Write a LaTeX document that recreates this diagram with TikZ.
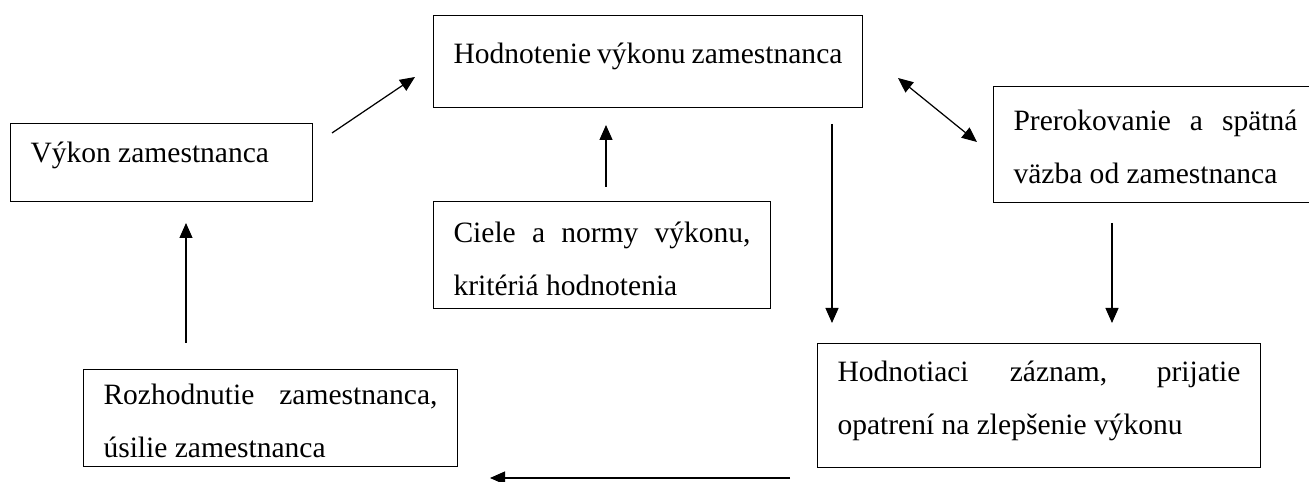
\documentclass[tikz,border=0pt]{standalone}
\usepackage{fontspec}
\setmainfont{Liberation Serif}
\usetikzlibrary{arrows.meta}
\tikzset{>={Triangle[length=0.3cm,width=0.26cm]}}
\hyphenpenalty=10000
\exhyphenpenalty=10000
\tolerance=10000

\begin{document}
\begin{tikzpicture}[x=0.02cm,y=-0.02cm,
  box/.style={draw,line width=.6pt,anchor=north west,inner xsep=0.4cm,inner ysep=0pt,align=justify,
    font=\fontsize{16.8}{30.2}\selectfont},
  arr/.style={->,line width=.7pt}]
\useasboundingbox (0,0) rectangle (1309,482);
\node[box,text width=7.78cm,text height=0.96cm,text depth=0.88cm] (hodnotenie) at (433,15) {Hodnotenie výkonu zamestnanca};
\node[box,text width=5.24cm,text height=0.78cm,text depth=0.78cm] (vykon) at (10,123) {Výkon zamestnanca};
\node[box,text width=5.94cm,text height=0.82cm,text depth=1.32cm] (ciele) at (433,201) {Ciele a normy výkonu, kritériá hodnotenia};
\node[box,text width=5.68cm,text height=0.88cm,text depth=1.44cm] (prerokovanie) at (993,86) {Prerokovanie a spätná väzba od zamestnanca};
\node[box,text width=8.06cm,text height=0.76cm,text depth=1.72cm] (zaznam) at (817,343) {Hodnotiaci záznam, prijatie opatrení na zlepšenie výkonu};
\node[box,text width=6.68cm,text height=0.7cm,text depth=1.24cm] (rozhodnutie) at (83,369) {Rozhodnutie zamestnanca, úsilie zamestnanca};
\coordinate (vykon-out) at (332,133);
\coordinate (hodnotenie-in) at (415,77);
\coordinate (ciele-out) at (606,187);
\coordinate (ciele-in) at (606,125);
\coordinate (prer-a) at (898,78);
\coordinate (prer-b) at (977,142);
\coordinate (hodn-out) at (832,124);
\coordinate (zaznam-in1) at (832,323);
\coordinate (prer-out) at (1112,223);
\coordinate (zaznam-in2) at (1112,323);
\coordinate (zaznam-out) at (790,478);
\coordinate (rozh-in) at (490,478);
\coordinate (rozh-out) at (186,343);
\coordinate (vykon-in) at (186,223);
\draw[arr] (vykon-out) -- (hodnotenie-in);
\draw[arr] (ciele-out) -- (ciele-in);
\draw[arr,<->] (prer-a) -- (prer-b);
\draw[arr] (hodn-out) -- (zaznam-in1);
\draw[arr] (prer-out) -- (zaznam-in2);
\draw[arr] (zaznam-out) -- (rozh-in);
\draw[arr] (rozh-out) -- (vykon-in);
\end{tikzpicture}
\end{document}
